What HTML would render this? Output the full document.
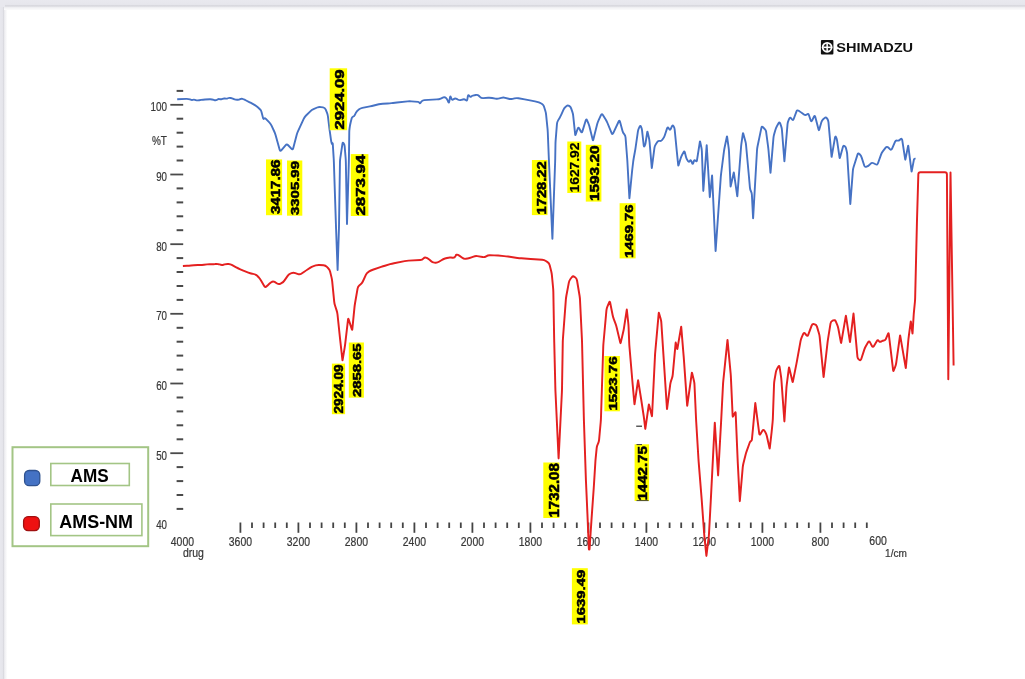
<!DOCTYPE html>
<html><head><meta charset="utf-8"><title>FTIR spectrum</title>
<style>
html,body{margin:0;padding:0;background:#fff;}
body{width:1025px;height:679px;overflow:hidden;position:relative;font-family:"Liberation Sans",Arial,sans-serif;}
.corner{position:absolute;left:0;top:0;width:4.5px;height:7px;background:#e8e8ee;}
.topbar{position:absolute;left:4px;top:0;width:1025px;height:10px;background:linear-gradient(to bottom,#e9e9ef 0,#e6e6ec 4.5px,#d3d3d9 6px,#ececf0 7px,#f5f5f7 8.5px,#fbfbfc 10px);}
.leftbar{position:absolute;left:0;top:0;width:7px;height:679px;background:linear-gradient(to right,#e8e8ee 0,#e4e4ea 2.8px,#d6d6dc 3.8px,#efeff2 4.6px,#f6f6f8 6px,#fdfdfd 7px);}
svg{position:absolute;left:0;top:0;filter:blur(0.5px);}
</style></head>
<body>
<div class="leftbar"></div>
<div class="topbar"></div>
<div class="corner"></div>
<svg width="1025" height="679" viewBox="0 0 1025 679" font-family="Liberation Sans, Arial, sans-serif">
<line x1="176.6" y1="508.9" x2="183.2" y2="508.9" stroke="#4a4a4a" stroke-width="2"/>
<line x1="176.6" y1="495.0" x2="183.2" y2="495.0" stroke="#4a4a4a" stroke-width="2"/>
<line x1="176.6" y1="481.1" x2="183.2" y2="481.1" stroke="#4a4a4a" stroke-width="2"/>
<line x1="176.6" y1="467.1" x2="183.2" y2="467.1" stroke="#4a4a4a" stroke-width="2"/>
<line x1="170.3" y1="453.2" x2="183.2" y2="453.2" stroke="#4a4a4a" stroke-width="1.8"/>
<line x1="176.6" y1="439.3" x2="183.2" y2="439.3" stroke="#4a4a4a" stroke-width="2"/>
<line x1="176.6" y1="425.3" x2="183.2" y2="425.3" stroke="#4a4a4a" stroke-width="2"/>
<line x1="176.6" y1="411.4" x2="183.2" y2="411.4" stroke="#4a4a4a" stroke-width="2"/>
<line x1="176.6" y1="397.5" x2="183.2" y2="397.5" stroke="#4a4a4a" stroke-width="2"/>
<line x1="170.3" y1="383.5" x2="183.2" y2="383.5" stroke="#4a4a4a" stroke-width="1.8"/>
<line x1="176.6" y1="369.6" x2="183.2" y2="369.6" stroke="#4a4a4a" stroke-width="2"/>
<line x1="176.6" y1="355.6" x2="183.2" y2="355.6" stroke="#4a4a4a" stroke-width="2"/>
<line x1="176.6" y1="341.7" x2="183.2" y2="341.7" stroke="#4a4a4a" stroke-width="2"/>
<line x1="176.6" y1="327.8" x2="183.2" y2="327.8" stroke="#4a4a4a" stroke-width="2"/>
<line x1="170.3" y1="313.8" x2="183.2" y2="313.8" stroke="#4a4a4a" stroke-width="1.8"/>
<line x1="176.6" y1="299.9" x2="183.2" y2="299.9" stroke="#4a4a4a" stroke-width="2"/>
<line x1="176.6" y1="286.0" x2="183.2" y2="286.0" stroke="#4a4a4a" stroke-width="2"/>
<line x1="176.6" y1="272.0" x2="183.2" y2="272.0" stroke="#4a4a4a" stroke-width="2"/>
<line x1="176.6" y1="258.1" x2="183.2" y2="258.1" stroke="#4a4a4a" stroke-width="2"/>
<line x1="170.3" y1="244.2" x2="183.2" y2="244.2" stroke="#4a4a4a" stroke-width="1.8"/>
<line x1="176.6" y1="230.2" x2="183.2" y2="230.2" stroke="#4a4a4a" stroke-width="2"/>
<line x1="176.6" y1="216.3" x2="183.2" y2="216.3" stroke="#4a4a4a" stroke-width="2"/>
<line x1="176.6" y1="202.4" x2="183.2" y2="202.4" stroke="#4a4a4a" stroke-width="2"/>
<line x1="176.6" y1="188.4" x2="183.2" y2="188.4" stroke="#4a4a4a" stroke-width="2"/>
<line x1="170.3" y1="174.5" x2="183.2" y2="174.5" stroke="#4a4a4a" stroke-width="1.8"/>
<line x1="176.6" y1="160.5" x2="183.2" y2="160.5" stroke="#4a4a4a" stroke-width="2"/>
<line x1="176.6" y1="146.6" x2="183.2" y2="146.6" stroke="#4a4a4a" stroke-width="2"/>
<line x1="176.6" y1="132.7" x2="183.2" y2="132.7" stroke="#4a4a4a" stroke-width="2"/>
<line x1="176.6" y1="118.7" x2="183.2" y2="118.7" stroke="#4a4a4a" stroke-width="2"/>
<line x1="170.3" y1="104.8" x2="183.2" y2="104.8" stroke="#4a4a4a" stroke-width="1.8"/>
<line x1="176.6" y1="90.9" x2="183.2" y2="90.9" stroke="#4a4a4a" stroke-width="2"/>
<text x="167" y="111.1" text-anchor="end" font-size="12" textLength="16.5" lengthAdjust="spacingAndGlyphs" fill="#383838" stroke="#383838" stroke-width="0.22">100</text>
<text x="167" y="180.8" text-anchor="end" font-size="12" textLength="10.8" lengthAdjust="spacingAndGlyphs" fill="#383838" stroke="#383838" stroke-width="0.22">90</text>
<text x="167" y="250.5" text-anchor="end" font-size="12" textLength="10.8" lengthAdjust="spacingAndGlyphs" fill="#383838" stroke="#383838" stroke-width="0.22">80</text>
<text x="167" y="320.1" text-anchor="end" font-size="12" textLength="10.8" lengthAdjust="spacingAndGlyphs" fill="#383838" stroke="#383838" stroke-width="0.22">70</text>
<text x="167" y="389.8" text-anchor="end" font-size="12" textLength="10.8" lengthAdjust="spacingAndGlyphs" fill="#383838" stroke="#383838" stroke-width="0.22">60</text>
<text x="167" y="459.5" text-anchor="end" font-size="12" textLength="10.8" lengthAdjust="spacingAndGlyphs" fill="#383838" stroke="#383838" stroke-width="0.22">50</text>
<text x="167" y="528.8" text-anchor="end" font-size="12" textLength="10.8" lengthAdjust="spacingAndGlyphs" fill="#383838" stroke="#383838" stroke-width="0.22">40</text>
<text x="151.9" y="145.2" font-size="12" textLength="15" lengthAdjust="spacingAndGlyphs" fill="#383838" stroke="#383838" stroke-width="0.22">%T</text>
<line x1="240.4" y1="522.5" x2="240.4" y2="532.8" stroke="#444" stroke-width="1.8"/>
<line x1="252.0" y1="522.5" x2="252.0" y2="528" stroke="#444" stroke-width="1.8"/>
<line x1="263.6" y1="522.5" x2="263.6" y2="528" stroke="#444" stroke-width="1.8"/>
<line x1="275.2" y1="522.5" x2="275.2" y2="528" stroke="#444" stroke-width="1.8"/>
<line x1="286.8" y1="522.5" x2="286.8" y2="528" stroke="#444" stroke-width="1.8"/>
<line x1="298.4" y1="522.5" x2="298.4" y2="532.8" stroke="#444" stroke-width="1.8"/>
<line x1="310.0" y1="522.5" x2="310.0" y2="528" stroke="#444" stroke-width="1.8"/>
<line x1="321.6" y1="522.5" x2="321.6" y2="528" stroke="#444" stroke-width="1.8"/>
<line x1="333.2" y1="522.5" x2="333.2" y2="528" stroke="#444" stroke-width="1.8"/>
<line x1="344.8" y1="522.5" x2="344.8" y2="528" stroke="#444" stroke-width="1.8"/>
<line x1="356.4" y1="522.5" x2="356.4" y2="532.8" stroke="#444" stroke-width="1.8"/>
<line x1="368.0" y1="522.5" x2="368.0" y2="528" stroke="#444" stroke-width="1.8"/>
<line x1="379.6" y1="522.5" x2="379.6" y2="528" stroke="#444" stroke-width="1.8"/>
<line x1="391.2" y1="522.5" x2="391.2" y2="528" stroke="#444" stroke-width="1.8"/>
<line x1="402.8" y1="522.5" x2="402.8" y2="528" stroke="#444" stroke-width="1.8"/>
<line x1="414.4" y1="522.5" x2="414.4" y2="532.8" stroke="#444" stroke-width="1.8"/>
<line x1="426.0" y1="522.5" x2="426.0" y2="528" stroke="#444" stroke-width="1.8"/>
<line x1="437.6" y1="522.5" x2="437.6" y2="528" stroke="#444" stroke-width="1.8"/>
<line x1="449.2" y1="522.5" x2="449.2" y2="528" stroke="#444" stroke-width="1.8"/>
<line x1="460.8" y1="522.5" x2="460.8" y2="528" stroke="#444" stroke-width="1.8"/>
<line x1="472.4" y1="522.5" x2="472.4" y2="532.8" stroke="#444" stroke-width="1.8"/>
<line x1="484.0" y1="522.5" x2="484.0" y2="528" stroke="#444" stroke-width="1.8"/>
<line x1="495.6" y1="522.5" x2="495.6" y2="528" stroke="#444" stroke-width="1.8"/>
<line x1="507.2" y1="522.5" x2="507.2" y2="528" stroke="#444" stroke-width="1.8"/>
<line x1="518.8" y1="522.5" x2="518.8" y2="528" stroke="#444" stroke-width="1.8"/>
<line x1="530.4" y1="522.5" x2="530.4" y2="532.8" stroke="#444" stroke-width="1.8"/>
<line x1="542.0" y1="522.5" x2="542.0" y2="528" stroke="#444" stroke-width="1.8"/>
<line x1="553.6" y1="522.5" x2="553.6" y2="528" stroke="#444" stroke-width="1.8"/>
<line x1="565.2" y1="522.5" x2="565.2" y2="528" stroke="#444" stroke-width="1.8"/>
<line x1="576.8" y1="522.5" x2="576.8" y2="528" stroke="#444" stroke-width="1.8"/>
<line x1="588.4" y1="522.5" x2="588.4" y2="532.8" stroke="#444" stroke-width="1.8"/>
<line x1="600.0" y1="522.5" x2="600.0" y2="528" stroke="#444" stroke-width="1.8"/>
<line x1="611.6" y1="522.5" x2="611.6" y2="528" stroke="#444" stroke-width="1.8"/>
<line x1="623.2" y1="522.5" x2="623.2" y2="528" stroke="#444" stroke-width="1.8"/>
<line x1="634.8" y1="522.5" x2="634.8" y2="528" stroke="#444" stroke-width="1.8"/>
<line x1="646.4" y1="522.5" x2="646.4" y2="532.8" stroke="#444" stroke-width="1.8"/>
<line x1="658.0" y1="522.5" x2="658.0" y2="528" stroke="#444" stroke-width="1.8"/>
<line x1="669.6" y1="522.5" x2="669.6" y2="528" stroke="#444" stroke-width="1.8"/>
<line x1="681.2" y1="522.5" x2="681.2" y2="528" stroke="#444" stroke-width="1.8"/>
<line x1="692.8" y1="522.5" x2="692.8" y2="528" stroke="#444" stroke-width="1.8"/>
<line x1="704.4" y1="522.5" x2="704.4" y2="532.8" stroke="#444" stroke-width="1.8"/>
<line x1="716.0" y1="522.5" x2="716.0" y2="528" stroke="#444" stroke-width="1.8"/>
<line x1="727.6" y1="522.5" x2="727.6" y2="528" stroke="#444" stroke-width="1.8"/>
<line x1="739.2" y1="522.5" x2="739.2" y2="528" stroke="#444" stroke-width="1.8"/>
<line x1="750.8" y1="522.5" x2="750.8" y2="528" stroke="#444" stroke-width="1.8"/>
<line x1="762.4" y1="522.5" x2="762.4" y2="532.8" stroke="#444" stroke-width="1.8"/>
<line x1="774.0" y1="522.5" x2="774.0" y2="528" stroke="#444" stroke-width="1.8"/>
<line x1="785.6" y1="522.5" x2="785.6" y2="528" stroke="#444" stroke-width="1.8"/>
<line x1="797.2" y1="522.5" x2="797.2" y2="528" stroke="#444" stroke-width="1.8"/>
<line x1="808.8" y1="522.5" x2="808.8" y2="528" stroke="#444" stroke-width="1.8"/>
<line x1="820.4" y1="522.5" x2="820.4" y2="532.8" stroke="#444" stroke-width="1.8"/>
<line x1="832.0" y1="522.5" x2="832.0" y2="528" stroke="#444" stroke-width="1.8"/>
<line x1="843.6" y1="522.5" x2="843.6" y2="528" stroke="#444" stroke-width="1.8"/>
<line x1="855.2" y1="522.5" x2="855.2" y2="528" stroke="#444" stroke-width="1.8"/>
<line x1="866.8" y1="522.5" x2="866.8" y2="528" stroke="#444" stroke-width="1.8"/>
<text x="170.8" y="545.6" font-size="12" textLength="23.2" lengthAdjust="spacingAndGlyphs" fill="#383838" stroke="#383838" stroke-width="0.22">4000</text>
<text x="228.8" y="545.6" font-size="12" textLength="23.2" lengthAdjust="spacingAndGlyphs" fill="#383838" stroke="#383838" stroke-width="0.22">3600</text>
<text x="286.8" y="545.6" font-size="12" textLength="23.2" lengthAdjust="spacingAndGlyphs" fill="#383838" stroke="#383838" stroke-width="0.22">3200</text>
<text x="344.8" y="545.6" font-size="12" textLength="23.2" lengthAdjust="spacingAndGlyphs" fill="#383838" stroke="#383838" stroke-width="0.22">2800</text>
<text x="402.8" y="545.6" font-size="12" textLength="23.2" lengthAdjust="spacingAndGlyphs" fill="#383838" stroke="#383838" stroke-width="0.22">2400</text>
<text x="460.8" y="545.6" font-size="12" textLength="23.2" lengthAdjust="spacingAndGlyphs" fill="#383838" stroke="#383838" stroke-width="0.22">2000</text>
<text x="518.8" y="545.6" font-size="12" textLength="23.2" lengthAdjust="spacingAndGlyphs" fill="#383838" stroke="#383838" stroke-width="0.22">1800</text>
<text x="576.8" y="545.6" font-size="12" textLength="23.2" lengthAdjust="spacingAndGlyphs" fill="#383838" stroke="#383838" stroke-width="0.22">1600</text>
<text x="634.8" y="545.6" font-size="12" textLength="23.2" lengthAdjust="spacingAndGlyphs" fill="#383838" stroke="#383838" stroke-width="0.22">1400</text>
<text x="692.8" y="545.6" font-size="12" textLength="23.2" lengthAdjust="spacingAndGlyphs" fill="#383838" stroke="#383838" stroke-width="0.22">1200</text>
<text x="750.8" y="545.6" font-size="12" textLength="23.2" lengthAdjust="spacingAndGlyphs" fill="#383838" stroke="#383838" stroke-width="0.22">1000</text>
<text x="811.6" y="545.6" font-size="12" textLength="17.5" lengthAdjust="spacingAndGlyphs" fill="#383838" stroke="#383838" stroke-width="0.22">800</text>
<text x="869.3" y="545.1" font-size="12" textLength="17.5" lengthAdjust="spacingAndGlyphs" fill="#383838" stroke="#383838" stroke-width="0.22">600</text>
<text x="182.9" y="556.8" font-size="12" textLength="21" lengthAdjust="spacingAndGlyphs" fill="#383838" stroke="#383838" stroke-width="0.22">drug</text>
<text x="885.1" y="556.9" font-size="11.5" textLength="21.8" lengthAdjust="spacingAndGlyphs" fill="#383838" stroke="#383838" stroke-width="0.22">1/cm</text>
<path d="M177.20,99.30L186.34,98.88Q188.20,98.80 189.95,99.45L190.63,99.70Q191.70,100.10 192.80,99.80L192.80,99.80Q193.90,99.50 194.99,99.84L195.65,100.05Q197.40,100.60 199.20,100.25L201.14,99.88Q203.10,99.50 205.10,99.43L209.90,99.27Q211.90,99.20 213.78,99.88L214.27,100.05Q215.80,100.60 217.15,99.70L217.54,99.44Q218.50,98.80 219.60,99.15L219.60,99.15Q220.70,99.50 221.77,99.07L222.43,98.81Q223.70,98.30 225.05,98.55L225.05,98.55Q226.40,98.80 227.66,98.27L227.70,98.25Q229.00,97.70 230.39,97.97L230.69,98.03Q232.10,98.30 233.40,98.90L233.87,99.12Q234.70,99.50 235.60,99.65L235.60,99.65Q236.50,99.80 237.41,99.76L237.85,99.75Q239.10,99.70 240.20,99.10L240.29,99.05Q241.30,98.50 242.40,98.85L242.40,98.85Q243.50,99.20 244.53,99.72L246.11,100.51Q247.90,101.40 249.69,102.29L250.51,102.71Q252.30,103.60 254.01,104.63L254.89,105.17Q256.60,106.20 258.09,107.54L259.90,109.17Q260.60,109.80 261.00,110.65L261.00,110.65Q261.40,111.50 261.63,112.41L263.14,118.37Q263.40,119.40 264.15,118.65L264.15,118.65Q264.90,117.90 265.64,118.66L269.30,122.37Q270.70,123.80 271.54,125.61L274.26,131.49Q275.10,133.30 275.64,135.23L279.66,149.67Q280.20,151.60 281.49,150.07L285.51,145.33Q286.80,143.80 288.17,145.26L291.33,148.64Q292.70,150.10 293.21,148.17L296.59,135.23Q297.10,133.30 297.93,131.48L303.57,119.02Q304.40,117.20 305.81,115.79L310.29,111.31Q311.70,109.90 313.53,109.10L317.17,107.50Q319.00,106.70 320.97,107.06L323.03,107.44Q325.00,107.80 325.75,109.66L326.95,112.64Q327.70,114.50 327.94,116.49L329.36,128.01Q329.60,130.00 329.88,131.98L330.98,139.90Q331.20,141.50 331.65,143.05L331.84,143.69Q332.10,144.60 332.40,143.70L332.43,143.61Q332.70,142.80 332.75,143.65L333.67,158.00Q333.80,160.00 333.87,162.00L335.93,224.60Q336.00,226.60 336.07,228.60L337.59,269.90Q337.60,270.30 337.61,269.90L338.94,228.60Q339.00,226.60 339.03,224.60L339.97,162.00Q340.00,160.00 340.30,158.02L342.47,143.56Q342.70,142.00 343.60,143.30L343.60,143.30Q344.50,144.60 344.63,146.18L345.63,158.01Q345.80,160.00 345.84,162.00L346.99,223.90Q347.00,224.30 347.01,223.90L348.84,162.00Q348.90,160.00 348.93,158.00L349.27,132.00Q349.30,130.00 349.61,128.02L349.89,126.18Q350.20,124.20 350.69,122.26L351.71,118.25Q352.00,117.10 353.10,116.65L353.10,116.65Q354.20,116.20 354.74,115.14L355.99,112.68Q356.90,110.90 358.51,109.71L358.79,109.49Q360.40,108.30 362.36,107.91L369.94,106.39Q371.90,106.00 373.84,105.51L378.76,104.29Q380.70,103.80 382.70,103.71L387.60,103.49Q389.60,103.40 391.58,103.14L393.02,102.96Q395.00,102.70 396.99,102.50L407.61,101.40Q409.60,101.20 411.59,101.37L418.16,101.92Q419.10,102.00 419.50,102.85L419.50,102.85Q419.90,103.70 420.40,102.90L421.04,101.89Q422.10,100.20 424.10,100.09L436.90,99.41Q438.90,99.30 440.74,98.52L443.37,97.41Q444.80,96.80 445.90,97.90L445.90,97.90Q447.00,99.00 447.62,100.43L448.26,101.93Q448.90,103.40 449.19,101.82L450.04,97.23Q450.30,95.80 450.82,97.15L451.40,98.68Q452.10,100.50 453.55,99.20L453.55,99.20Q455.00,97.90 456.68,98.89L457.68,99.48Q459.40,100.50 461.32,99.94L462.90,99.47Q464.50,99.00 465.75,100.10L465.75,100.10Q467.00,101.20 467.29,99.56L467.88,96.13Q468.20,94.30 469.30,95.80L469.79,96.47Q470.40,97.30 471.10,96.55L471.10,96.55Q471.80,95.80 472.81,95.60L475.74,95.00Q477.70,94.60 479.09,96.03L479.91,96.87Q481.30,98.30 483.29,98.14L488.11,97.76Q490.10,97.60 492.06,97.98L495.44,98.62Q497.40,99.00 499.32,98.45L501.38,97.85Q503.30,97.30 505.23,97.83L508.67,98.77Q510.60,99.30 512.55,98.84L514.55,98.36Q516.50,97.90 518.47,98.27L524.73,99.43Q526.70,99.80 528.67,100.16L535.03,101.34Q537.00,101.70 538.86,102.44L540.04,102.90Q541.30,103.40 542.40,104.20L542.40,104.20Q543.50,105.00 543.90,106.30L545.30,110.79Q545.90,112.70 546.10,114.69L547.50,128.31Q547.70,130.30 547.78,132.30L548.82,158.00Q548.90,160.00 548.99,162.00L552.38,238.70Q552.40,239.10 552.41,238.70L555.13,162.00Q555.20,160.00 555.23,158.00L555.47,144.10Q555.50,142.10 555.66,140.11L556.94,124.09Q557.10,122.10 558.12,120.38L559.58,117.92Q560.60,116.20 561.40,114.37L563.40,109.83Q564.20,108.00 565.72,106.70L566.40,106.11Q567.70,105.00 569.15,105.90L569.15,105.90Q570.60,106.80 571.15,108.41L572.35,111.91Q573.00,113.80 573.21,115.79L575.19,134.58Q575.30,135.60 575.63,134.62L577.65,128.69Q578.30,126.80 579.25,128.56L580.85,131.54Q581.80,133.30 582.39,131.39L585.71,120.51Q586.30,118.60 587.12,120.43L588.08,122.57Q588.90,124.40 589.38,126.34L592.70,139.70Q593.00,140.90 593.30,139.71L597.21,124.04Q597.70,122.10 598.54,120.29L600.96,115.11Q601.80,113.30 602.87,114.99L605.53,119.21Q606.60,120.90 607.36,122.75L611.64,133.15Q612.40,135.00 613.24,133.19L618.66,121.51Q619.50,119.70 620.02,121.63L622.51,130.88Q623.00,132.70 624.20,134.15L624.20,134.15Q625.40,135.60 625.55,137.48L627.14,158.01Q627.30,160.00 627.41,162.00L629.38,198.10Q629.40,198.50 629.44,198.10L632.00,171.99Q632.20,170.00 632.44,168.01L633.16,161.99Q633.40,160.00 633.76,158.03L634.94,151.47Q635.30,149.50 635.59,147.52L637.91,131.38Q638.20,129.40 639.15,127.64L639.62,126.76Q640.40,125.30 641.10,126.80L641.10,126.80Q641.80,128.30 641.98,129.95L643.75,145.76Q643.90,147.10 644.60,145.95L644.60,145.95Q645.30,144.80 645.51,143.47L647.27,132.01Q647.40,131.20 647.58,132.00L648.96,138.05Q649.40,140.00 649.57,141.99L651.77,167.90Q651.80,168.30 651.85,167.90L654.44,147.88Q654.70,145.90 655.82,144.25L657.47,141.82Q658.30,140.60 659.75,140.90L659.75,140.90Q661.20,141.20 662.07,140.01L663.02,138.71Q664.20,137.10 664.83,135.20L667.07,128.40Q667.70,126.50 668.68,128.24L669.02,128.86Q670.00,130.60 670.81,128.77L671.88,126.32Q672.60,124.70 673.55,126.20L673.55,126.20Q674.50,127.70 674.67,129.47L676.31,146.31Q676.50,148.30 676.70,150.29L678.21,165.11Q678.30,166.00 678.56,165.14L680.62,158.41Q681.20,156.50 682.15,154.74L683.45,152.36Q684.40,150.60 684.89,152.54L686.01,156.96Q686.50,158.90 687.63,160.55L687.93,160.99Q688.90,162.40 689.80,160.95L689.80,160.95Q690.70,159.50 691.31,161.09L692.01,162.90Q692.70,164.70 693.29,162.87L693.86,161.09Q694.40,159.40 695.55,160.75L695.55,160.75Q696.70,162.10 696.97,160.35L699.88,141.76Q700.00,141.00 700.16,141.76L701.39,147.54Q701.80,149.50 701.87,151.50L703.29,190.80Q703.30,191.20 703.33,190.80L706.67,145.40Q706.70,145.00 706.72,145.40L709.78,197.00Q709.80,197.40 709.84,197.00L712.06,175.70Q712.10,175.30 712.12,175.70L715.58,250.90Q715.60,251.30 715.63,250.90L720.76,177.30Q720.90,175.30 721.15,173.32L723.95,151.48Q724.20,149.50 724.61,147.54L726.86,136.69Q727.00,136.00 727.10,136.70L728.62,147.52Q728.90,149.50 728.99,151.50L730.58,186.40Q730.60,186.80 730.69,186.41L733.64,172.94Q733.80,172.20 733.91,172.95L737.24,196.10Q737.30,196.50 737.33,196.10L741.05,146.99Q741.20,145.00 741.49,143.02L742.86,133.64Q743.00,132.70 743.25,133.62L745.37,141.37Q745.90,143.30 746.08,145.29L748.62,173.01Q748.80,175.00 748.98,176.99L749.93,187.56Q750.10,189.50 750.95,191.25L750.95,191.25Q751.80,193.00 751.90,194.94L753.08,218.20Q753.10,218.60 753.12,218.20L756.99,150.50Q757.10,148.50 757.51,146.54L758.49,141.76Q758.90,139.80 759.31,137.84L761.43,127.67Q761.80,125.90 763.00,127.25L763.40,127.70Q764.20,128.60 765.05,129.45L765.05,129.45Q765.90,130.30 766.06,131.49L768.03,146.02Q768.30,148.00 768.48,149.99L770.46,172.60Q770.50,173.00 770.53,172.60L773.43,138.19Q773.60,136.20 774.14,134.27L775.36,129.93Q775.90,128.00 776.87,126.25L778.53,123.25Q779.50,121.50 780.17,123.39L781.13,126.11Q781.80,128.00 781.95,129.99L784.37,161.10Q784.40,161.50 784.43,161.10L787.53,124.09Q787.70,122.10 788.53,120.28L789.27,118.62Q790.10,116.80 791.25,118.43L791.85,119.27Q793.00,120.90 793.69,119.02L796.41,111.58Q797.10,109.70 798.76,110.81L799.04,110.99Q800.70,112.10 802.30,113.29L803.92,114.49Q805.40,115.60 806.85,114.45L806.85,114.45Q808.30,113.30 808.90,115.05L810.65,120.21Q811.30,122.10 812.18,120.31L813.92,116.79Q814.80,115.00 815.30,116.94L818.56,129.57Q818.90,130.90 819.27,129.58L821.36,122.22Q821.90,120.30 823.42,119.00L824.48,118.10Q826.00,116.80 827.10,118.47L827.20,118.63Q828.30,120.30 828.48,122.29L831.56,156.70Q831.60,157.10 831.67,156.71L835.02,137.41Q835.30,135.80 836.05,137.25L836.05,137.25Q836.80,138.70 837.04,140.32L839.56,157.64Q839.70,158.60 839.96,157.67L843.04,146.58Q843.40,145.30 844.50,146.05L844.50,146.05Q845.60,146.80 845.93,148.09L846.61,150.76Q847.10,152.70 847.22,154.70L850.28,203.90Q850.30,204.30 850.33,203.90L852.85,170.89Q853.00,168.90 853.60,166.99L857.50,154.61Q858.10,152.70 859.51,154.11L859.69,154.29Q861.10,155.70 861.70,157.61L864.22,165.56Q864.80,167.40 866.60,166.70L866.60,166.70Q868.40,166.00 869.71,164.58L870.45,163.77Q871.80,162.30 873.57,163.23L875.53,164.27Q877.30,165.20 877.96,163.31L881.04,154.59Q881.70,152.70 882.94,151.13L885.66,147.67Q886.90,146.10 888.31,147.51L889.89,149.09Q891.30,150.50 892.09,148.66L895.11,141.57Q895.70,140.20 897.15,140.55L897.15,140.55Q898.60,140.90 899.72,139.92L900.40,139.32Q901.90,138.00 902.20,139.98L905.19,159.40Q905.30,160.10 905.44,159.40L908.08,145.90Q908.20,145.30 908.28,145.91L911.53,171.32Q911.60,171.90 911.71,171.32L913.96,159.34Q914.10,158.60 914.85,158.60L915.60,158.60" fill="none" stroke="#4672c4" stroke-width="1.9" stroke-linejoin="round"/>
<path d="M182.90,266.00L187.00,265.73Q189.00,265.60 190.99,265.45L193.81,265.25Q195.80,265.10 197.80,265.04L200.00,264.96Q202.00,264.90 203.99,264.70L207.01,264.40Q209.00,264.20 211.00,264.30L211.03,264.30Q213.00,264.40 214.95,264.10L215.57,264.00Q216.90,263.80 218.20,264.15L218.21,264.15Q219.50,264.50 220.80,264.80L220.80,264.80Q222.10,265.10 223.38,264.72L224.58,264.37Q226.50,263.80 228.49,264.00L228.51,264.00Q230.50,264.20 232.24,265.18L232.66,265.42Q234.40,266.40 236.17,267.33L236.30,267.40Q238.00,268.30 239.75,269.10L239.75,269.10Q241.50,269.90 243.27,270.64L243.96,270.93Q245.80,271.70 247.67,272.42L248.33,272.68Q250.20,273.40 252.18,273.71L253.02,273.85Q254.60,274.10 255.95,274.95L255.95,274.95Q257.30,275.80 258.36,277.00L258.98,277.70Q260.30,279.20 261.30,280.93L264.20,285.97Q265.20,287.70 266.65,286.32L267.85,285.18Q269.30,283.80 270.86,282.55L271.34,282.15Q272.90,280.90 274.61,281.94L277.09,283.46Q278.80,284.50 280.59,283.61L281.41,283.19Q283.20,282.30 284.35,280.66L287.85,275.64Q289.00,274.00 290.89,273.35L291.51,273.15Q293.40,272.50 295.30,273.13L298.10,274.07Q300.00,274.70 301.64,273.56L304.26,271.74Q305.90,270.60 307.56,269.48L310.04,267.82Q311.70,266.70 313.60,266.09L315.70,265.41Q317.60,264.80 319.59,264.98L323.51,265.32Q325.50,265.50 326.91,266.91L328.19,268.19Q329.60,269.60 330.08,271.54L331.52,277.36Q332.00,279.30 332.20,281.29L334.20,301.61Q334.40,303.60 335.02,305.50L336.68,310.60Q337.30,312.50 337.51,314.49L339.89,337.21Q340.10,339.20 340.32,341.19L342.45,360.14Q342.50,360.60 342.58,360.15L344.67,347.67Q345.00,345.70 345.23,343.71L348.08,319.23Q348.20,318.20 348.53,319.18L351.89,329.37Q352.20,330.30 352.30,329.33L354.50,307.19Q354.70,305.20 355.04,303.23L357.56,288.57Q357.90,286.60 359.46,285.35L360.44,284.55Q362.00,283.30 362.83,281.48L365.97,274.62Q366.80,272.80 368.53,271.79L369.17,271.41Q370.90,270.40 372.79,269.76L381.11,266.94Q383.00,266.30 384.92,265.73L390.08,264.17Q392.00,263.60 393.96,263.21L404.64,261.09Q406.60,260.70 408.60,260.60L420.35,260.00Q422.30,259.90 423.55,258.40L423.55,258.40Q424.80,256.90 426.53,257.81L427.23,258.17Q429.00,259.10 430.41,260.51L430.89,260.99Q432.30,262.40 434.29,262.60L435.31,262.70Q437.30,262.90 438.97,261.80L441.43,260.20Q443.10,259.10 445.02,258.54L446.98,257.96Q448.90,257.40 450.89,257.57L452.71,257.73Q454.70,257.90 455.48,256.06L455.56,255.85Q456.30,254.10 458.00,254.95L458.00,254.95Q459.70,255.80 461.18,256.99L462.24,257.85Q463.80,259.10 465.78,258.79L467.62,258.51Q469.60,258.20 471.45,257.44L473.55,256.56Q475.40,255.80 477.37,256.15L482.57,257.06Q484.50,257.40 486.15,256.35L486.15,256.35Q487.80,255.30 489.76,255.32L494.10,255.38Q496.10,255.40 498.09,255.58L504.11,256.12Q506.10,256.30 508.08,256.58L517.42,257.92Q519.40,258.20 521.40,258.34L530.60,258.96Q532.60,259.10 534.60,259.24L542.20,259.76Q544.20,259.90 545.87,261.00L547.53,262.10Q549.20,263.20 549.69,265.14L551.21,271.26Q551.70,273.20 551.89,275.19L553.11,288.01Q553.30,290.00 553.34,292.00L554.16,338.50Q554.20,340.50 554.25,342.50L555.35,388.00Q555.40,390.00 555.49,392.00L558.58,458.20Q558.60,458.60 558.62,458.20L561.90,392.00Q562.00,390.00 562.03,388.00L562.77,342.50Q562.80,340.50 562.95,338.51L565.85,299.69Q566.00,297.70 566.37,295.73L568.83,282.57Q569.20,280.60 570.43,279.02L571.77,277.28Q573.00,275.70 574.59,276.91L575.11,277.29Q576.70,278.50 577.03,280.47L579.57,295.73Q579.90,297.70 580.00,299.70L581.90,338.50Q582.00,340.50 582.05,342.50L583.85,418.00Q583.90,420.00 583.97,422.00L585.83,477.80Q585.90,479.80 585.99,481.80L587.41,513.60Q587.50,515.60 587.58,517.60L588.89,549.20Q588.90,549.50 589.20,549.50L589.20,549.50Q589.50,549.50 589.52,549.20L591.37,521.60Q591.50,519.60 591.64,517.60L593.76,487.70Q593.90,485.70 594.02,483.70L595.38,461.80Q595.50,459.80 595.70,457.81L596.70,447.89Q596.90,445.90 597.79,444.11L598.01,443.69Q598.90,441.90 599.08,439.91L600.72,421.99Q600.90,420.00 600.96,418.00L603.24,347.00Q603.30,345.00 603.48,343.01L606.42,310.39Q606.60,308.40 607.38,306.56L609.16,302.41Q609.80,300.90 610.12,302.51L612.61,315.04Q613.00,317.00 613.70,318.87L615.50,323.63Q616.20,325.50 616.66,327.45L620.24,342.61Q620.50,343.70 620.75,342.61L623.25,331.75Q623.70,329.80 624.00,327.82L626.74,309.80Q626.80,309.40 626.84,309.80L628.28,323.01Q628.50,325.00 628.58,327.00L629.22,343.00Q629.30,345.00 629.47,346.99L632.43,381.71Q632.60,383.70 632.78,385.69L634.46,404.10Q634.50,404.50 634.56,404.10L638.02,380.54Q638.10,380.00 638.19,380.54L641.19,399.52Q641.50,401.50 641.80,403.48L643.70,416.02Q644.00,418.00 644.23,419.99L645.25,428.70Q645.30,429.10 645.36,428.70L648.78,404.95Q648.90,404.10 649.11,404.94L651.87,416.00Q652.00,416.50 652.03,415.98L655.00,355.60Q655.10,353.60 655.28,351.61L658.73,313.21Q658.80,312.40 659.03,313.18L660.64,318.68Q661.20,320.60 661.33,322.60L666.97,408.90Q667.00,409.30 667.05,408.90L670.24,384.48Q670.50,382.50 671.14,380.61L671.96,378.19Q672.60,376.30 672.78,374.31L675.65,342.87Q675.70,342.30 675.82,342.86L677.11,348.66Q677.30,349.50 677.44,348.65L681.13,326.89Q681.20,326.50 681.23,326.90L683.63,355.91Q683.80,357.90 683.94,359.90L687.17,405.60Q687.20,406.00 687.26,405.60L691.79,373.10Q691.90,372.30 692.09,373.08L693.94,380.85Q694.40,382.80 694.49,384.80L696.01,418.00Q696.10,420.00 696.22,422.00L698.48,459.20Q698.60,461.20 698.76,463.19L701.44,496.41Q701.60,498.40 701.75,500.39L704.15,533.51Q704.30,535.50 704.50,537.49L706.36,555.70Q706.40,556.10 706.45,555.70L708.66,537.49Q708.90,535.50 709.01,533.50L710.79,500.40Q710.90,498.40 711.00,496.40L712.90,459.10Q713.00,457.10 713.10,455.10L714.78,422.90Q714.80,422.50 714.82,422.90L718.08,475.30Q718.10,475.70 718.12,475.30L721.09,422.00Q721.20,420.00 721.30,418.00L723.00,384.80Q723.10,382.80 723.30,380.81L727.46,340.10Q727.50,339.70 727.54,340.10L730.61,373.11Q730.80,375.10 730.89,377.10L732.64,416.00Q732.70,417.30 733.28,416.13L735.02,412.66Q735.60,411.50 735.65,412.79L737.62,459.20Q737.70,461.20 737.80,463.20L739.78,501.00Q739.80,501.40 739.83,501.00L742.73,467.39Q742.90,465.40 743.39,463.46L745.51,454.94Q746.00,453.00 746.68,451.12L749.77,442.53Q750.10,441.60 750.95,441.10L750.95,441.10Q751.80,440.60 751.90,439.62L753.01,428.19Q753.20,426.20 753.38,424.21L755.26,403.30Q755.30,402.90 755.35,403.30L759.26,433.62Q759.50,435.50 760.47,433.88L762.37,430.71Q763.40,429.00 764.43,430.71L765.37,432.29Q766.40,434.00 766.83,435.95L769.56,448.26Q769.70,448.90 769.77,448.25L771.58,432.29Q771.80,430.30 771.99,428.31L772.61,421.99Q772.80,420.00 772.87,418.00L774.03,384.50Q774.10,382.50 774.43,380.53L775.87,372.07Q776.20,370.10 777.24,368.39L778.27,366.70Q779.30,365.00 779.59,366.96L781.00,376.42Q781.30,378.40 781.44,380.39L784.37,421.20Q784.40,421.60 784.42,421.20L786.38,388.60Q786.50,386.60 786.75,384.62L788.90,367.76Q789.00,367.00 789.18,367.74L792.46,381.51Q792.70,382.50 792.90,381.50L796.41,363.86Q796.80,361.90 797.16,359.93L800.54,341.17Q800.90,339.20 801.69,337.36L803.21,333.84Q804.00,332.00 805.19,333.60L806.31,335.10Q807.50,336.70 808.19,334.82L811.61,325.58Q812.30,323.70 814.24,324.17L814.46,324.23Q816.40,324.70 816.97,326.62L818.93,333.18Q819.50,335.10 819.69,337.09L823.56,376.90Q823.60,377.30 823.65,376.90L827.47,343.19Q827.70,341.20 828.01,339.22L830.49,323.58Q830.80,321.60 832.61,320.74L833.19,320.46Q835.00,319.60 835.77,321.45L837.23,324.95Q838.00,326.80 838.37,328.77L840.96,342.56Q841.10,343.30 841.23,342.56L845.79,316.11Q845.90,315.50 845.99,316.12L849.93,341.87Q850.00,342.30 850.05,341.86L853.45,313.80Q853.50,313.40 853.54,313.80L857.43,356.96Q857.60,358.80 859.15,359.80L859.15,359.80Q860.70,360.80 861.26,359.04L864.29,349.60Q864.90,347.70 865.92,345.98L868.08,342.32Q869.10,340.60 870.04,342.36L871.96,345.94Q872.90,347.70 873.94,345.99L876.88,341.12Q877.80,339.60 878.90,341.00L878.96,341.08Q880.00,342.40 881.35,341.40L881.66,341.17Q882.70,340.40 884.00,340.40L884.00,340.40Q885.30,340.40 885.80,339.20L888.09,333.73Q888.60,332.50 888.76,333.82L893.15,370.35Q893.30,371.60 893.76,370.43L895.17,366.86Q895.90,365.00 896.18,363.02L900.02,335.67Q900.10,335.10 900.20,335.67L905.73,367.91Q905.80,368.30 905.84,367.90L908.32,340.39Q908.50,338.40 908.77,336.42L910.74,321.62Q910.80,321.20 910.86,321.62L912.45,333.40Q912.50,333.80 912.53,333.40L913.67,315.30Q913.80,313.30 913.99,311.31L914.91,301.99Q915.10,300.00 915.15,298.00L916.95,222.00Q917.00,220.00 917.06,218.00L918.34,174.20Q918.40,172.20 920.40,172.20L944.90,172.20Q946.90,172.20 946.91,174.20L948.30,379.10Q948.30,379.50 948.30,379.10L950.50,172.60Q950.50,172.20 950.51,172.60L953.60,365.60" fill="none" stroke="#e42020" stroke-width="1.95" stroke-linejoin="round"/>
<rect x="266" y="159.4" width="16.1" height="55.8" fill="#ffff00"/>
<text transform="translate(279.9,186.9) rotate(-90)" x="-27.2" y="0" font-size="12.4" font-weight="700" textLength="54.4" lengthAdjust="spacingAndGlyphs" fill="#000" stroke="#000" stroke-width="0.55">3417.86</text>
<rect x="287" y="160.5" width="15.3" height="55.2" fill="#ffff00"/>
<text transform="translate(299.2,188.0) rotate(-90)" x="-27.0" y="0" font-size="11.6" font-weight="700" textLength="54.0" lengthAdjust="spacingAndGlyphs" fill="#000" stroke="#000" stroke-width="0.55">3305.99</text>
<rect x="329.7" y="68.3" width="17.4" height="61.9" fill="#ffff00"/>
<text transform="translate(343.8,99.5) rotate(-90)" x="-30.1" y="0" font-size="12.4" font-weight="700" textLength="60.2" lengthAdjust="spacingAndGlyphs" fill="#000" stroke="#000" stroke-width="0.55">2924.09</text>
<rect x="350.8" y="154.1" width="17.6" height="61.9" fill="#ffff00"/>
<text transform="translate(365.3,185.1) rotate(-90)" x="-30.5" y="0" font-size="12.3" font-weight="700" textLength="60.9" lengthAdjust="spacingAndGlyphs" fill="#000" stroke="#000" stroke-width="0.55">2873.94</text>
<rect x="531.9" y="160" width="15.6" height="55.1" fill="#ffff00"/>
<text transform="translate(546.3,187.9) rotate(-90)" x="-26.6" y="0" font-size="12.3" font-weight="700" textLength="53.2" lengthAdjust="spacingAndGlyphs" fill="#000" stroke="#000" stroke-width="0.55">1728.22</text>
<rect x="567.3" y="141.5" width="14.0" height="51.5" fill="#ffff00"/>
<text transform="translate(578.8,167.5) rotate(-90)" x="-25.0" y="0" font-size="12.8" font-weight="700" textLength="50.0" lengthAdjust="spacingAndGlyphs" fill="#000" stroke="#000" stroke-width="0.2">1627.92</text>
<rect x="585.8" y="144.8" width="15.6" height="56.8" fill="#ffff00"/>
<text transform="translate(599.4,173.2) rotate(-90)" x="-27.8" y="0" font-size="12.3" font-weight="700" textLength="55.5" lengthAdjust="spacingAndGlyphs" fill="#000" stroke="#000" stroke-width="0.55">1593.20</text>
<rect x="619.6" y="203.2" width="16.0" height="55.2" fill="#ffff00"/>
<text transform="translate(633.0,231.3) rotate(-90)" x="-26.5" y="0" font-size="10.8" font-weight="700" textLength="53.1" lengthAdjust="spacingAndGlyphs" fill="#000" stroke="#000" stroke-width="0.55">1469.76</text>
<rect x="331.9" y="363.6" width="13.2" height="50.6" fill="#ffff00"/>
<text transform="translate(343.2,389.0) rotate(-90)" x="-24.5" y="0" font-size="12.3" font-weight="700" textLength="49.0" lengthAdjust="spacingAndGlyphs" fill="#000" stroke="#000" stroke-width="0.55">2924.09</text>
<rect x="348.8" y="342.5" width="15.1" height="55.2" fill="#ffff00"/>
<text transform="translate(361.4,370.2) rotate(-90)" x="-26.8" y="0" font-size="11.5" font-weight="700" textLength="53.5" lengthAdjust="spacingAndGlyphs" fill="#000" stroke="#000" stroke-width="0.55">2858.65</text>
<rect x="543.3" y="462.5" width="16.1" height="55.5" fill="#ffff00"/>
<text transform="translate(558.5,490.4) rotate(-90)" x="-27.2" y="0" font-size="13.8" font-weight="700" textLength="54.4" lengthAdjust="spacingAndGlyphs" fill="#000" stroke="#000" stroke-width="0.55">1732.08</text>
<rect x="571.9" y="568.2" width="15.9" height="56.2" fill="#ffff00"/>
<text transform="translate(585.3,596.6) rotate(-90)" x="-26.8" y="0" font-size="10.9" font-weight="700" textLength="53.6" lengthAdjust="spacingAndGlyphs" fill="#000" stroke="#000" stroke-width="0.55">1639.49</text>
<rect x="604.4" y="356.0" width="15.5" height="55.3" fill="#ffff00"/>
<text transform="translate(617.1,383.6) rotate(-90)" x="-27.0" y="0" font-size="10.8" font-weight="700" textLength="54.1" lengthAdjust="spacingAndGlyphs" fill="#000" stroke="#000" stroke-width="0.55">1523.76</text>
<rect x="634.6" y="444.3" width="14.5" height="56.7" fill="#ffff00"/>
<text transform="translate(647.4,473.3) rotate(-90)" x="-27.3" y="0" font-size="12.6" font-weight="700" textLength="54.6" lengthAdjust="spacingAndGlyphs" fill="#000" stroke="#000" stroke-width="0.55">1442.75</text>
<line x1="636.2" y1="426.2" x2="642" y2="426.2" stroke="#333" stroke-width="1.2"/>
<line x1="636.5" y1="444.6" x2="642" y2="444.6" stroke="#333" stroke-width="1"/>
<line x1="636.5" y1="500.6" x2="648.5" y2="500.6" stroke="#333" stroke-width="0.9"/>
<rect x="820.9" y="40.1" width="12.5" height="14.4" rx="1" fill="#111"/>
<circle cx="827.15" cy="47.3" r="5.4" fill="#fff"/>
<circle cx="827.15" cy="47.3" r="3.5" fill="#222"/>
<line x1="823.4" y1="47.3" x2="830.9" y2="47.3" stroke="#fff" stroke-width="1.5"/>
<line x1="827.15" y1="43.6" x2="827.15" y2="51" stroke="#fff" stroke-width="1.5"/>
<text x="836.3" y="51.8" font-size="12.3" font-weight="700" textLength="76.8" lengthAdjust="spacingAndGlyphs" fill="#111">SHIMADZU</text>
<rect x="12.5" y="447.2" width="135.7" height="99" fill="#fff" stroke="#a3c585" stroke-width="2"/>
<rect x="24.6" y="470.5" width="15.2" height="15.2" rx="4.5" fill="#4472c4" stroke="#2f528f" stroke-width="1.3"/>
<rect x="23.6" y="516.6" width="15.7" height="14" rx="4.5" fill="#ee1111" stroke="#a01010" stroke-width="1.3"/>
<rect x="50.8" y="463.5" width="78.5" height="22" fill="#fff" stroke="#a3c585" stroke-width="1.6"/>
<rect x="50.8" y="504" width="91.1" height="31.6" fill="#fff" stroke="#a3c585" stroke-width="1.6"/>
<text x="70.6" y="481.8" font-size="18.5" font-weight="700" textLength="38.1" lengthAdjust="spacingAndGlyphs" fill="#000">AMS</text>
<text x="59.3" y="527.5" font-size="19" font-weight="700" textLength="73.7" lengthAdjust="spacingAndGlyphs" fill="#000">AMS-NM</text>
</svg>
</body></html>
